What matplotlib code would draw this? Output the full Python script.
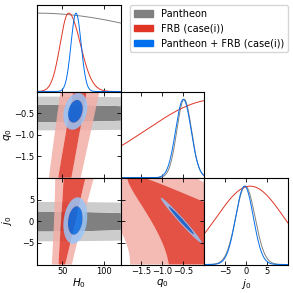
import numpy as np
import matplotlib
matplotlib.use("Agg")
import matplotlib.pyplot as plt
from matplotlib.patches import Patch
from matplotlib.colors import to_rgb

# axis ranges and ticks
h0_lim = (20.0, 119.5)
q0_lim = (-2.0, 0.0)
j0_lim = (-10.0, 10.0)
h0_ticks = [50, 100]
q0_ticks = [-1.5, -1.0, -0.5]
j0_ticks = [-5, 0, 5]

names = ["Pantheon", "FRB (case(i))", "Pantheon + FRB (case(i))"]
colors = ["gray", "#E03424", "#006FED"]

# 1D marginals (centre, sigma); red H0 is a split normal (centre, sig_left, sig_right)
gray_h0_1d = [20.0, 191.0]
red_h0_1d = [57.5, 10.0, 14.0]
blue_h0_1d = [66.4, 6.0]
gray_q0_1d = [-0.48, 0.175]
red_q0_1d = [0.3, 1.7]
blue_q0_1d = [-0.50, 0.185]
gray_j0_1d = [-0.2, 2.3]
red_j0_1d = [0.95, 8.0]
blue_j0_1d = [-0.4, 2.1]

# 2D gaussians: mean x, mean y, sigma x, sigma y, rho
gray_h0_q0 = [20.0, -0.51, 191.0, 0.20, 0.0]
gray_h0_j0 = [20.0, -0.05, 191.0, 2.33, 0.0]
gray_q0_j0 = [-0.50, 0.0, 0.19, 2.1, -0.985]
blue_h0_q0 = [65.5, -0.46, 5.8, 0.175, 0.25]
blue_h0_j0 = [65.5, 0.2, 5.8, 2.2, 0.2]
blue_q0_j0 = [-0.55, 0.25, 0.20, 2.15, -0.985]

# red 2D: heavy tailed band, centre c0+c1*y, width s0+s1*y, log height poly in y,
# k = ratio of the inner to the outer contour level
red_h0_q0 = dict(c=[71.0, 9.0], s=[11.1, 1.5], lnf=[0.344, -0.1165, 0.0], k=4.0)
red_h0_j0 = dict(c=[57.0, 0.75], s=[5.8, 0.0], lnf=[1.09, 0.078, 0.0], k=4.0)
red_q0_j0 = dict(c=[-0.08, -0.154], s=[1.3, 0.0], lnf=[0.52, -0.07, 0.002], k=2.0)

chi2_2d = [2.279, 5.991]   # 68 / 95 % for 2 dof
chi2_1d = [0.989, 3.841]   # band when the other parameter is flat


def pale(c, f=0.6):
    r, g, b = to_rgb(c)
    return (r * (1 - f) + f, g * (1 - f) + f, b * (1 - f) + f)


def gauss1(x, p):
    return np.exp(-0.5 * ((x - p[0]) / p[1]) ** 2)


def split1(x, p):
    s = np.where(x < p[0], p[1], p[2])
    return np.exp(-0.5 * ((x - p[0]) / s) ** 2)


def r2(X, Y, p):
    mx, my, sx, sy, r = p
    dx = (X - mx) / sx
    dy = (Y - my) / sy
    return (dx * dx - 2 * r * dx * dy + dy * dy) / (1 - r * r)


def band(X, Y, p):
    c = p["c"][0] + p["c"][1] * Y
    s = p["s"][0] + p["s"][1] * Y
    lnf = p["lnf"][0] + p["lnf"][1] * Y + p["lnf"][2] * Y * Y
    z = (X - c) / s
    return np.exp(lnf) * (1 + z * z / 2) ** -1.5


def fill_gauss(ax, X, Y, p, col, lev, alpha):
    ax.contourf(X, Y, r2(X, Y, p), levels=[0, lev[0], lev[1]],
                colors=[col, pale(col)], alpha=alpha, antialiased=True)


def fill_band(ax, X, Y, D, p, col, alpha):
    ax.contourf(X, Y, D, levels=[1.0 / p["k"], 1.0, 1e9],
                colors=[pale(col), col], alpha=alpha, antialiased=True)


fig = plt.figure(figsize=(2.93, 2.93), dpi=100)
W = H = 293.0
col_left = [37.0, 120.5, 204.3]
row_top = [5.3, 91.5, 178.3]
pw, ph = 83.8, 86.2


def panel(r, c):
    return fig.add_axes([col_left[c] / W, 1 - (row_top[r] + ph) / H, pw / W, ph / H])


lims = [h0_lim, q0_lim, j0_lim]
ticks = [h0_ticks, q0_ticks, j0_ticks]
labels = ["$H_0$", "$q_0$", "$j_0$"]

axes = {}
for r in range(3):
    for c in range(r + 1):
        axes[(r, c)] = panel(r, c)

n = 400
h0 = np.linspace(*h0_lim, n)
q0 = np.linspace(*q0_lim, n)
j0 = np.linspace(*j0_lim, n)

# ---- 2D panels
ax = axes[(1, 0)]
X, Y = np.meshgrid(h0, q0)
fill_gauss(ax, X, Y, gray_h0_q0, colors[0], chi2_1d, 1.0)
fill_band(ax, X, Y, band(X, Y, red_h0_q0), red_h0_q0, colors[1], 0.85)
fill_gauss(ax, X, Y, blue_h0_q0, colors[2], chi2_2d, 0.85)

ax = axes[(2, 0)]
X, Y = np.meshgrid(h0, j0)
fill_gauss(ax, X, Y, gray_h0_j0, colors[0], chi2_1d, 1.0)
fill_band(ax, X, Y, band(X, Y, red_h0_j0), red_h0_j0, colors[1], 0.85)
fill_gauss(ax, X, Y, blue_h0_j0, colors[2], chi2_2d, 0.85)

ax = axes[(2, 1)]
X, Y = np.meshgrid(q0, j0)
fill_gauss(ax, X, Y, gray_q0_j0, colors[0], chi2_2d, 1.0)
fill_band(ax, X, Y, band(X, Y, red_q0_j0), red_q0_j0, colors[1], 0.85)
fill_gauss(ax, X, Y, blue_q0_j0, colors[2], chi2_2d, 0.85)

# ---- 1D panels
lw = 0.7
ax = axes[(0, 0)]
ax.plot(h0, gauss1(h0, gray_h0_1d), color=colors[0], lw=lw)
ax.plot(h0, split1(h0, red_h0_1d), color=colors[1], lw=lw)
ax.plot(h0, gauss1(h0, blue_h0_1d), color=colors[2], lw=lw)

ax = axes[(1, 1)]
ax.plot(q0, gauss1(q0, gray_q0_1d), color=colors[0], lw=lw)
ax.plot(q0, gauss1(q0, red_q0_1d), color=colors[1], lw=lw)
ax.plot(q0, gauss1(q0, blue_q0_1d), color=colors[2], lw=lw)

ax = axes[(2, 2)]
ax.plot(j0, gauss1(j0, gray_j0_1d), color=colors[0], lw=lw)
ax.plot(j0, gauss1(j0, red_j0_1d), color=colors[1], lw=lw)
ax.plot(j0, gauss1(j0, blue_j0_1d), color=colors[2], lw=lw)

# ---- axes cosmetics
for (r, c), ax in axes.items():
    ax.set_xlim(lims[c])
    ax.set_xticks(ticks[c])
    ax.tick_params(direction="in", length=3, width=0.6, labelsize=6, pad=2,
                   top=True, right=(r != c))
    for sp in ax.spines.values():
        sp.set_linewidth(0.8)
    if r == c:
        ax.set_ylim(0, 1.1)
        ax.set_yticks([])
    else:
        ax.set_ylim(lims[r])
        ax.set_yticks(ticks[r])
    if r < 2:
        ax.tick_params(labelbottom=False)
    else:
        ax.set_xlabel(labels[c], fontsize=7.5)
        ax.xaxis.set_label_coords(0.5, -0.14)
    if c > 0 or r == 0:
        ax.tick_params(labelleft=False)
    elif r > 0:
        ax.set_ylabel(labels[r], fontsize=7.5)
        ax.yaxis.set_label_coords(-0.27, 0.5)

handles = [Patch(color=col) for col in colors]
fig.legend(handles, names, loc="upper right", fontsize=7,
           bbox_to_anchor=(288.3 / W, 1 - 4.7 / H), borderaxespad=0)

fig.savefig("out.png", dpi=100)
